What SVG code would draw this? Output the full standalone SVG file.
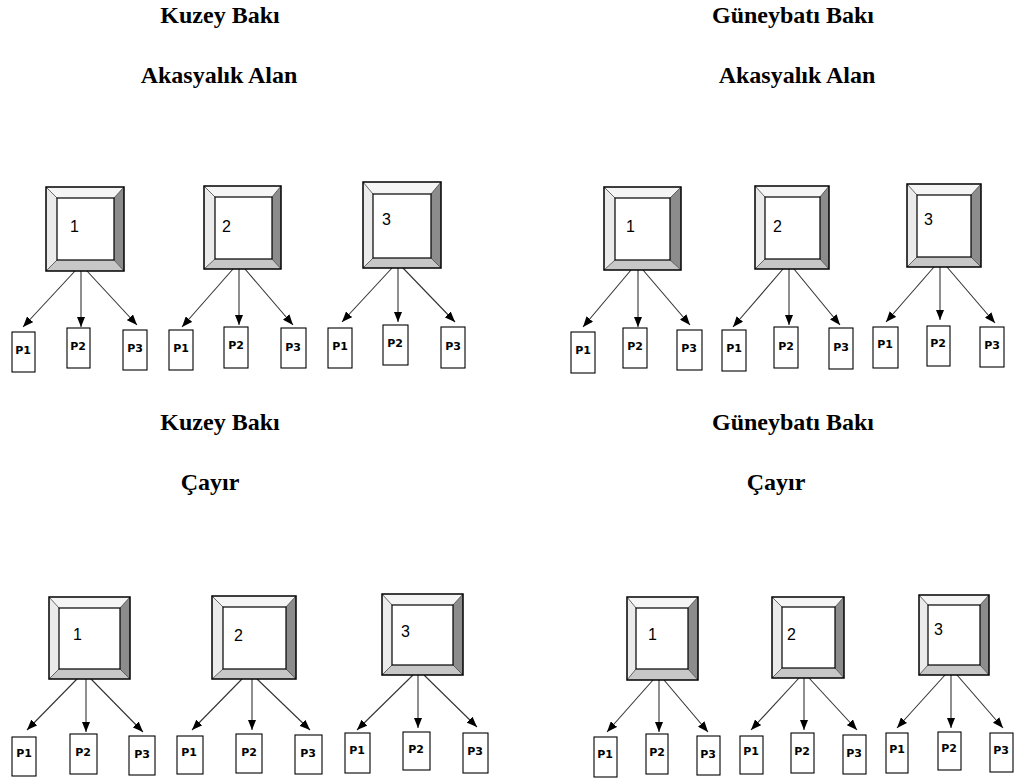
<svg xmlns="http://www.w3.org/2000/svg" width="1014" height="780" viewBox="0 0 1014 780">
  <defs>
    <marker id="arrow" viewBox="0 0 10 8" refX="10" refY="4" markerWidth="10.5" markerHeight="8.5" markerUnits="userSpaceOnUse" orient="auto">
      <path d="M0,0 L10,4 L0,8 Z" fill="#000"/>
    </marker>
  </defs>
  <style>
    .title{font-family:"Liberation Serif","Times New Roman",serif;font-weight:bold;font-size:24px;fill:#000;text-anchor:middle}
    .top{fill:#f5f5f5}
    .lft{fill:#ebebeb}
    .rgt{fill:#8c8c8c}
    .bot{fill:#c7c7c7}
    .edge{fill:none;stroke:#444;stroke-width:0.8}
    .face{fill:#fff;stroke:#000;stroke-width:1.2}
    .frame{fill:none;stroke:#000;stroke-width:1.5}
    .num{font-family:"Liberation Sans",Arial,sans-serif;font-size:16px;fill:#000}
    .plot{fill:#fff;stroke:#000;stroke-width:1.1}
    .plabel{font-family:"DejaVu Sans","Liberation Sans",sans-serif;font-weight:bold;font-size:11px;fill:#000;text-anchor:middle}
    .conn line{stroke:#333;stroke-width:1.1;marker-end:url(#arrow)}
  </style>
  <rect width="1014" height="780" fill="#fff"/>

  <!-- headings -->
  <g id="headings">
    <text class="title" x="220" y="23">Kuzey Bakı</text>
    <text class="title" x="219" y="83">Akasyalık Alan</text>
    <text class="title" x="793" y="23">Güneybatı Bakı</text>
    <text class="title" x="797" y="83">Akasyalık Alan</text>
    <text class="title" x="220" y="430">Kuzey Bakı</text>
    <text class="title" x="210" y="490">Çayır</text>
    <text class="title" x="793" y="430">Güneybatı Bakı</text>
    <text class="title" x="776" y="490">Çayır</text>
  </g>

  <!-- connectors: block to plots -->
  <g id="connectors" class="conn">
    <line x1="75" y1="271" x2="23" y2="327"/>
    <line x1="81" y1="271" x2="81" y2="327"/>
    <line x1="87" y1="271" x2="137" y2="325"/>
    <line x1="233" y1="269" x2="182" y2="327"/>
    <line x1="239" y1="269" x2="239" y2="325"/>
    <line x1="245" y1="269" x2="293" y2="325"/>
    <line x1="392" y1="268" x2="342" y2="322"/>
    <line x1="398" y1="268" x2="398" y2="322"/>
    <line x1="403" y1="268" x2="455" y2="322"/>
    <line x1="631" y1="270" x2="583" y2="327"/>
    <line x1="638" y1="270" x2="638" y2="327"/>
    <line x1="643" y1="270" x2="690" y2="325"/>
    <line x1="783" y1="269" x2="733" y2="327"/>
    <line x1="789" y1="269" x2="789" y2="325"/>
    <line x1="794" y1="269" x2="840" y2="325"/>
    <line x1="934" y1="267" x2="886" y2="322"/>
    <line x1="940" y1="267" x2="940" y2="320"/>
    <line x1="947" y1="267" x2="995" y2="323"/>
    <line x1="77" y1="679" x2="27" y2="730"/>
    <line x1="86" y1="679" x2="86" y2="732"/>
    <line x1="91" y1="679" x2="143" y2="732"/>
    <line x1="242" y1="679" x2="192" y2="730"/>
    <line x1="252" y1="679" x2="252" y2="730"/>
    <line x1="257" y1="679" x2="310" y2="730"/>
    <line x1="413" y1="675" x2="357" y2="730"/>
    <line x1="418" y1="675" x2="418" y2="728"/>
    <line x1="424" y1="675" x2="477" y2="727"/>
    <line x1="653" y1="680" x2="607" y2="732"/>
    <line x1="659" y1="680" x2="659" y2="732"/>
    <line x1="664" y1="680" x2="708" y2="732"/>
    <line x1="799" y1="678" x2="751" y2="730"/>
    <line x1="804" y1="678" x2="804" y2="730"/>
    <line x1="809" y1="678" x2="857" y2="730"/>
    <line x1="945" y1="675" x2="897" y2="728"/>
    <line x1="951" y1="675" x2="951" y2="728"/>
    <line x1="957" y1="675" x2="1003" y2="728"/>
  </g>

  <!-- bevelled blocks -->
  <g id="n-akasya-1" transform="translate(46,187)">
    <polygon class="top" points="0,0 78,0 68,11 11,11"/>
    <polygon class="lft" points="0,0 11,11 11,73 0,84"/>
    <polygon class="rgt" points="78,0 78,84 68,73 68,11"/>
    <polygon class="bot" points="0,84 11,73 68,73 78,84"/>
    <path class="edge" d="M0,0L11,11M78,0L68,11M78,84L68,73M0,84L11,73"/>
    <rect class="face" x="11" y="11" width="57" height="62"/>
    <rect class="frame" width="78" height="84"/>
    <text class="num" x="24" y="45">1</text>
  </g>
  <g id="n-akasya-2" transform="translate(204,186)">
    <polygon class="top" points="0,0 77,0 68,11 11,11"/>
    <polygon class="lft" points="0,0 11,11 11,73 0,83"/>
    <polygon class="rgt" points="77,0 77,83 68,73 68,11"/>
    <polygon class="bot" points="0,83 11,73 68,73 77,83"/>
    <path class="edge" d="M0,0L11,11M77,0L68,11M77,83L68,73M0,83L11,73"/>
    <rect class="face" x="11" y="11" width="57" height="62"/>
    <rect class="frame" width="77" height="83"/>
    <text class="num" x="18" y="46">2</text>
  </g>
  <g id="n-akasya-3" transform="translate(363,182)">
    <polygon class="top" points="0,0 78,0 68,12 10,12"/>
    <polygon class="lft" points="0,0 10,12 10,76 0,86"/>
    <polygon class="rgt" points="78,0 78,86 68,76 68,12"/>
    <polygon class="bot" points="0,86 10,76 68,76 78,86"/>
    <path class="edge" d="M0,0L10,12M78,0L68,12M78,86L68,76M0,86L10,76"/>
    <rect class="face" x="10" y="12" width="58" height="64"/>
    <rect class="frame" width="78" height="86"/>
    <text class="num" x="19" y="43">3</text>
  </g>
  <g id="s-akasya-1" transform="translate(604,187)">
    <polygon class="top" points="0,0 77,0 66,11 11,11"/>
    <polygon class="lft" points="0,0 11,11 11,73 0,83"/>
    <polygon class="rgt" points="77,0 77,83 66,73 66,11"/>
    <polygon class="bot" points="0,83 11,73 66,73 77,83"/>
    <path class="edge" d="M0,0L11,11M77,0L66,11M77,83L66,73M0,83L11,73"/>
    <rect class="face" x="11" y="11" width="55" height="62"/>
    <rect class="frame" width="77" height="83"/>
    <text class="num" x="22" y="45">1</text>
  </g>
  <g id="s-akasya-2" transform="translate(755,186)">
    <polygon class="top" points="0,0 74,0 65,11 10,11"/>
    <polygon class="lft" points="0,0 10,11 10,73 0,83"/>
    <polygon class="rgt" points="74,0 74,83 65,73 65,11"/>
    <polygon class="bot" points="0,83 10,73 65,73 74,83"/>
    <path class="edge" d="M0,0L10,11M74,0L65,11M74,83L65,73M0,83L10,73"/>
    <rect class="face" x="10" y="11" width="55" height="62"/>
    <rect class="frame" width="74" height="83"/>
    <text class="num" x="18" y="46">2</text>
  </g>
  <g id="s-akasya-3" transform="translate(907,184)">
    <polygon class="top" points="0,0 74,0 64,11 10,11"/>
    <polygon class="lft" points="0,0 10,11 10,73 0,83"/>
    <polygon class="rgt" points="74,0 74,83 64,73 64,11"/>
    <polygon class="bot" points="0,83 10,73 64,73 74,83"/>
    <path class="edge" d="M0,0L10,11M74,0L64,11M74,83L64,73M0,83L10,73"/>
    <rect class="face" x="10" y="11" width="54" height="62"/>
    <rect class="frame" width="74" height="83"/>
    <text class="num" x="17" y="41">3</text>
  </g>
  <g id="n-cayir-1" transform="translate(49,597)">
    <polygon class="top" points="0,0 81,0 71,11 10,11"/>
    <polygon class="lft" points="0,0 10,11 10,72 0,82"/>
    <polygon class="rgt" points="81,0 81,82 71,72 71,11"/>
    <polygon class="bot" points="0,82 10,72 71,72 81,82"/>
    <path class="edge" d="M0,0L10,11M81,0L71,11M81,82L71,72M0,82L10,72"/>
    <rect class="face" x="10" y="11" width="61" height="61"/>
    <rect class="frame" width="81" height="82"/>
    <text class="num" x="24" y="43">1</text>
  </g>
  <g id="n-cayir-2" transform="translate(212,596)">
    <polygon class="top" points="0,0 84,0 74,11 11,11"/>
    <polygon class="lft" points="0,0 11,11 11,73 0,83"/>
    <polygon class="rgt" points="84,0 84,83 74,73 74,11"/>
    <polygon class="bot" points="0,83 11,73 74,73 84,83"/>
    <path class="edge" d="M0,0L11,11M84,0L74,11M84,83L74,73M0,83L11,73"/>
    <rect class="face" x="11" y="11" width="63" height="62"/>
    <rect class="frame" width="84" height="83"/>
    <text class="num" x="22" y="45">2</text>
  </g>
  <g id="n-cayir-3" transform="translate(382,594)">
    <polygon class="top" points="0,0 81,0 71,11 10,11"/>
    <polygon class="lft" points="0,0 10,11 10,71 0,81"/>
    <polygon class="rgt" points="81,0 81,81 71,71 71,11"/>
    <polygon class="bot" points="0,81 10,71 71,71 81,81"/>
    <path class="edge" d="M0,0L10,11M81,0L71,11M81,81L71,71M0,81L10,71"/>
    <rect class="face" x="10" y="11" width="61" height="60"/>
    <rect class="frame" width="81" height="81"/>
    <text class="num" x="19" y="43">3</text>
  </g>
  <g id="s-cayir-1" transform="translate(627,597)">
    <polygon class="top" points="0,0 71,0 61,11 9,11"/>
    <polygon class="lft" points="0,0 9,11 9,72 0,83"/>
    <polygon class="rgt" points="71,0 71,83 61,72 61,11"/>
    <polygon class="bot" points="0,83 9,72 61,72 71,83"/>
    <path class="edge" d="M0,0L9,11M71,0L61,11M71,83L61,72M0,83L9,72"/>
    <rect class="face" x="9" y="11" width="52" height="61"/>
    <rect class="frame" width="71" height="83"/>
    <text class="num" x="21" y="43">1</text>
  </g>
  <g id="s-cayir-2" transform="translate(772,597)">
    <polygon class="top" points="0,0 72,0 63,10 10,10"/>
    <polygon class="lft" points="0,0 10,10 10,71 0,81"/>
    <polygon class="rgt" points="72,0 72,81 63,71 63,10"/>
    <polygon class="bot" points="0,81 10,71 63,71 72,81"/>
    <path class="edge" d="M0,0L10,10M72,0L63,10M72,81L63,71M0,81L10,71"/>
    <rect class="face" x="10" y="10" width="53" height="61"/>
    <rect class="frame" width="72" height="81"/>
    <text class="num" x="15" y="43">2</text>
  </g>
  <g id="s-cayir-3" transform="translate(919,595)">
    <polygon class="top" points="0,0 70,0 61,10 9,10"/>
    <polygon class="lft" points="0,0 9,10 9,70 0,80"/>
    <polygon class="rgt" points="70,0 70,80 61,70 61,10"/>
    <polygon class="bot" points="0,80 9,70 61,70 70,80"/>
    <path class="edge" d="M0,0L9,10M70,0L61,10M70,80L61,70M0,80L9,70"/>
    <rect class="face" x="9" y="10" width="52" height="60"/>
    <rect class="frame" width="70" height="80"/>
    <text class="num" x="15" y="40">3</text>
  </g>

  <!-- plots -->
  <g id="n-akasya-1-p1"><rect class="plot" x="12" y="332" width="23" height="40"/><text class="plabel" x="23" y="354">P1</text></g>
  <g id="n-akasya-1-p2"><rect class="plot" x="67" y="328" width="23" height="40"/><text class="plabel" x="78" y="350">P2</text></g>
  <g id="n-akasya-1-p3"><rect class="plot" x="123" y="330" width="24" height="40"/><text class="plabel" x="135" y="352">P3</text></g>
  <g id="n-akasya-2-p1"><rect class="plot" x="169" y="330" width="24" height="40"/><text class="plabel" x="181" y="352">P1</text></g>
  <g id="n-akasya-2-p2"><rect class="plot" x="224" y="327" width="24" height="41"/><text class="plabel" x="236" y="349">P2</text></g>
  <g id="n-akasya-2-p3"><rect class="plot" x="281" y="328" width="25" height="40"/><text class="plabel" x="293" y="351">P3</text></g>
  <g id="n-akasya-3-p1"><rect class="plot" x="328" y="328" width="24" height="40"/><text class="plabel" x="340" y="350">P1</text></g>
  <g id="n-akasya-3-p2"><rect class="plot" x="383" y="325" width="25" height="40"/><text class="plabel" x="395" y="347">P2</text></g>
  <g id="n-akasya-3-p3"><rect class="plot" x="441" y="327" width="24" height="41"/><text class="plabel" x="453" y="350">P3</text></g>
  <g id="s-akasya-1-p1"><rect class="plot" x="571" y="332" width="24" height="41"/><text class="plabel" x="583" y="354">P1</text></g>
  <g id="s-akasya-1-p2"><rect class="plot" x="623" y="328" width="24" height="40"/><text class="plabel" x="635" y="350">P2</text></g>
  <g id="s-akasya-1-p3"><rect class="plot" x="677" y="330" width="25" height="40"/><text class="plabel" x="689" y="352">P3</text></g>
  <g id="s-akasya-2-p1"><rect class="plot" x="722" y="330" width="24" height="41"/><text class="plabel" x="734" y="352">P1</text></g>
  <g id="s-akasya-2-p2"><rect class="plot" x="774" y="327" width="24" height="41"/><text class="plabel" x="786" y="350">P2</text></g>
  <g id="s-akasya-2-p3"><rect class="plot" x="829" y="328" width="24" height="41"/><text class="plabel" x="841" y="351">P3</text></g>
  <g id="s-akasya-3-p1"><rect class="plot" x="873" y="327" width="25" height="41"/><text class="plabel" x="885" y="348">P1</text></g>
  <g id="s-akasya-3-p2"><rect class="plot" x="927" y="326" width="23" height="40"/><text class="plabel" x="938" y="347">P2</text></g>
  <g id="s-akasya-3-p3"><rect class="plot" x="980" y="327" width="24" height="40"/><text class="plabel" x="992" y="349">P3</text></g>
  <g id="n-cayir-1-p1"><rect class="plot" x="12" y="737" width="24" height="39"/><text class="plabel" x="24" y="757">P1</text></g>
  <g id="n-cayir-1-p2"><rect class="plot" x="70" y="734" width="27" height="40"/><text class="plabel" x="83" y="756">P2</text></g>
  <g id="n-cayir-1-p3"><rect class="plot" x="129" y="736" width="26" height="39"/><text class="plabel" x="142" y="758">P3</text></g>
  <g id="n-cayir-2-p1"><rect class="plot" x="177" y="736" width="26" height="38"/><text class="plabel" x="189" y="756">P1</text></g>
  <g id="n-cayir-2-p2"><rect class="plot" x="236" y="734" width="26" height="39"/><text class="plabel" x="249" y="756">P2</text></g>
  <g id="n-cayir-2-p3"><rect class="plot" x="295" y="735" width="27" height="39"/><text class="plabel" x="308" y="757">P3</text></g>
  <g id="n-cayir-3-p1"><rect class="plot" x="345" y="733" width="25" height="40"/><text class="plabel" x="357" y="754">P1</text></g>
  <g id="n-cayir-3-p2"><rect class="plot" x="403" y="732" width="27" height="38"/><text class="plabel" x="416" y="753">P2</text></g>
  <g id="n-cayir-3-p3"><rect class="plot" x="463" y="733" width="25" height="40"/><text class="plabel" x="475" y="755">P3</text></g>
  <g id="s-cayir-1-p1"><rect class="plot" x="594" y="737" width="23" height="40"/><text class="plabel" x="605" y="758">P1</text></g>
  <g id="s-cayir-1-p2"><rect class="plot" x="646" y="734" width="22" height="40"/><text class="plabel" x="657" y="756">P2</text></g>
  <g id="s-cayir-1-p3"><rect class="plot" x="697" y="736" width="23" height="39"/><text class="plabel" x="708" y="758">P3</text></g>
  <g id="s-cayir-2-p1"><rect class="plot" x="740" y="736" width="23" height="38"/><text class="plabel" x="751" y="755">P1</text></g>
  <g id="s-cayir-2-p2"><rect class="plot" x="791" y="733" width="23" height="40"/><text class="plabel" x="802" y="755">P2</text></g>
  <g id="s-cayir-2-p3"><rect class="plot" x="843" y="735" width="23" height="39"/><text class="plabel" x="854" y="757">P3</text></g>
  <g id="s-cayir-3-p1"><rect class="plot" x="886" y="733" width="22" height="40"/><text class="plabel" x="897" y="753">P1</text></g>
  <g id="s-cayir-3-p2"><rect class="plot" x="938" y="732" width="23" height="38"/><text class="plabel" x="949" y="752">P2</text></g>
  <g id="s-cayir-3-p3"><rect class="plot" x="990" y="733" width="23" height="39"/><text class="plabel" x="1001" y="754">P3</text></g>
</svg>
